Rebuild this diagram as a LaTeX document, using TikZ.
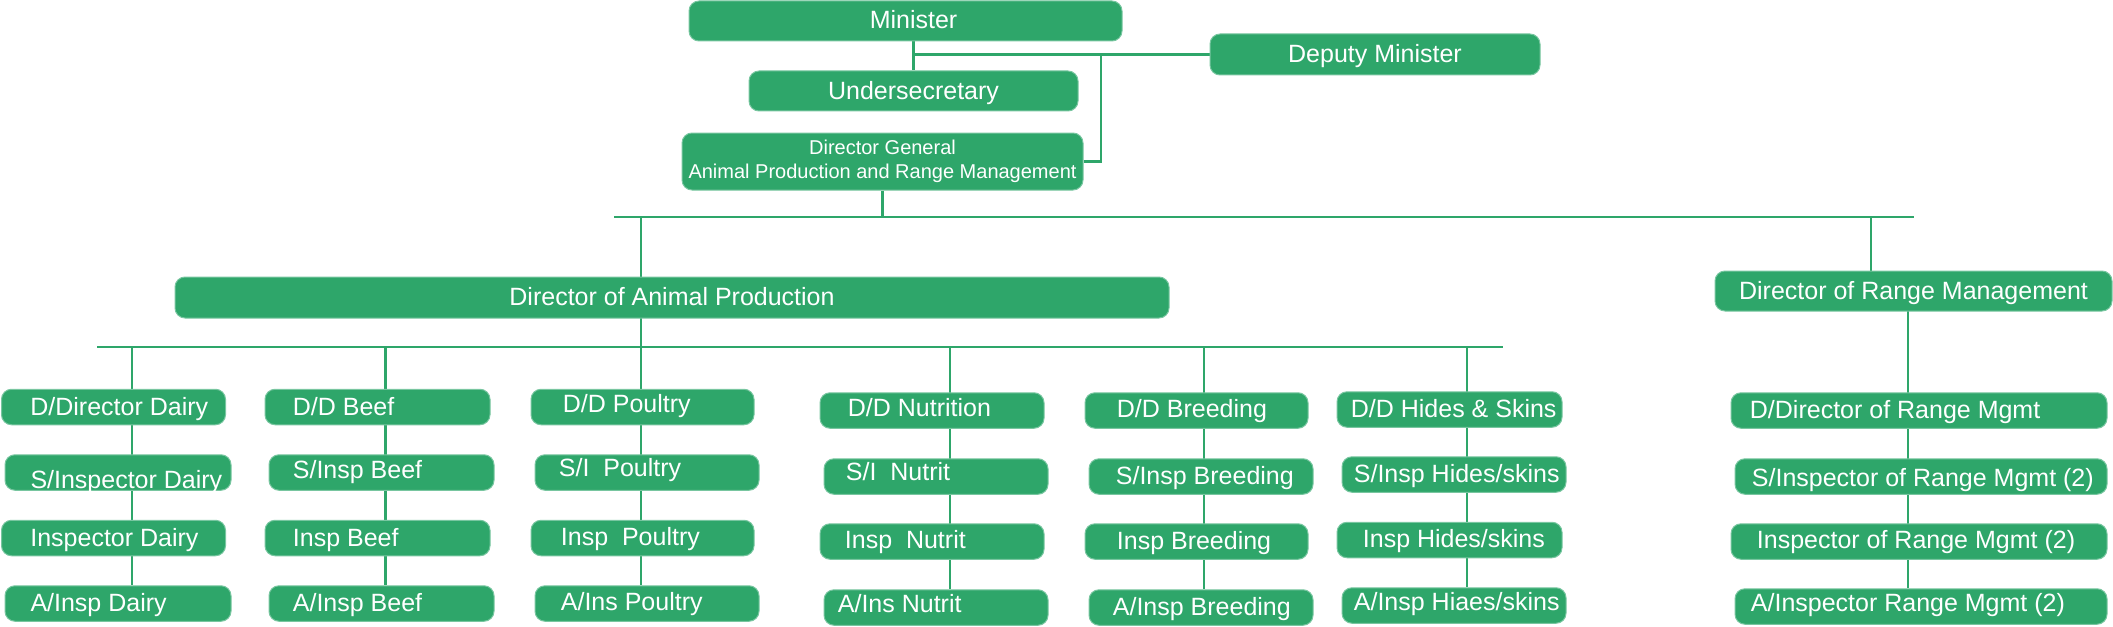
\documentclass[tikz,border=0pt]{standalone}
\usepackage{fontspec}
\setmainfont{Liberation Sans}
\usetikzlibrary{backgrounds}
\definecolor{agrigreen}{RGB}{46,166,106}
\definecolor{agririm}{RGB}{120,198,160}
\tikzset{
  box/.style={rectangle, rounded corners=5pt, fill=agrigreen, draw=agririm, line width=0.5pt,
    inner sep=0pt, text=white, font=\fontsize{12.5}{15}\selectfont},
  onetext/.style={text height=11pt, text depth=3pt},
  boxtext/.style={onetext, inner sep=0pt, text=white, font=\fontsize{12.5}{15}\selectfont, anchor=west},
  link/.style={draw=agrigreen, line width=1.4pt},
}
\tikzset{
  pics/post/.style args={#1/#2/#3/#4}{% #1=width, #2=indent, #3=raise, #4=text
    code = {
      \node[box, minimum width=#1, minimum height=17.75pt] (-box) {};
      \node[boxtext] (-text) at ([xshift=#2, yshift=#3]-box.west) {#4};
}}}

\begin{document}
\begin{tikzpicture}[x=0.5pt, y=-0.5pt]
  \useasboundingbox (0,0) rectangle (2113,626);
  % top of the chart
  \node[box, onetext, minimum width=216.5pt, minimum height=20pt] (minister) at (905.5,21) {\hspace*{8pt}Minister};
  \node[box, onetext, minimum width=165pt, minimum height=20.5pt] (deputy) at (1375,54.5) {Deputy Minister};
  \node[box, onetext, minimum width=164.5pt, minimum height=20pt] (usec) at (913.5,91) {Undersecretary};
  \node[box, align=center, font=\fontsize{10}{12}\selectfont, minimum width=200.5pt, minimum height=28.5pt] (dg) at (882.5,161.5) {Director General\\Animal Production and Range Management};
  \node[box, onetext, minimum width=497pt, minimum height=20.5pt] (dap) at (672,297.5) {Director of Animal Production};
  \node[box, onetext, minimum width=198.5pt, minimum height=20pt] (drm) at (1913.5,291) {Director of Range Management};

  \pic (dairy1) at (113.5,407) {post=112pt/14.5/0/D/Director Dairy};
  \pic (dairy2) at (118,472.5) {post=113pt/12.8/-3.75/S/Inspector Dairy};
  \pic (dairy3) at (113.5,538) {post=112pt/14.5/0/Inspector Dairy};
  \pic (dairy4) at (118,603.5) {post=113pt/12.8/0/A/Insp Dairy};

  \pic (beef1) at (377.5,407) {post=112.5pt/14/0/D/D Beef};
  \pic (beef2) at (381.5,472.5) {post=112.5pt/12/1/S/Insp Beef};
  \pic (beef3) at (377.5,538) {post=112.5pt/14/0/Insp Beef};
  \pic (beef4) at (381.5,603.5) {post=112.5pt/12/0/A/Insp Beef};

  \pic (poul1) at (642.5,407) {post=111.5pt/16/1.5/D/D Poultry};
  \pic (poul2) at (647,472.5) {post=112pt/12/2/S/I\ \ Poultry};
  \pic (poul3) at (642.5,538) {post=111.5pt/15/0.5/Insp\ \ Poultry};
  \pic (poul4) at (647,603.5) {post=112pt/13/0.75/A/Ins Poultry};

  \pic (nutr1) at (932,410.5) {post=112pt/14/1/D/D Nutrition};
  \pic (nutr2) at (936,476.5) {post=112pt/11/2.25/S/I\ \ Nutrit};
  \pic (nutr3) at (932,541.5) {post=112pt/12.5/0.5/Insp\ \ Nutrit};
  \pic (nutr4) at (936,607.5) {post=112pt/7/1.5/A/Ins Nutrit};

  \pic (bree1) at (1196.5,410.5) {post=111.5pt/16/0.5/D/D Breeding};
  \pic (bree2) at (1201,476.5) {post=112pt/13.5/0/S/Insp Breeding};
  \pic (bree3) at (1196.5,541.5) {post=111.5pt/16/0/Insp Breeding};
  \pic (bree4) at (1201,607.5) {post=112pt/12/0/A/Insp Breeding};

  \pic (hide1) at (1449.5,409.5) {post=112.5pt/7/0/D/D Hides \& Skins};
  \pic (hide2) at (1454,474.5) {post=112pt/6/0/S/Insp Hides/skins};
  \pic (hide3) at (1449.5,540) {post=112.5pt/13/0.5/Insp Hides/skins};
  \pic (hide4) at (1454,605.5) {post=112pt/6/1.75/A/Insp Hiaes/skins};

  \pic (rng1) at (1919,410.5) {post=188pt/9.5/0/D/Director of Range Mgmt};
  \pic (rng2) at (1921,476.5) {post=186pt/8.5/-0.75/S/Inspector of Range Mgmt (2)};
  \pic (rng3) at (1919,541.5) {post=188pt/13/0.5/Inspector of Range Mgmt (2)};
  \pic (rng4) at (1921,606.5) {post=186pt/8/1.5/A/Inspector Range Mgmt (2)};

  \coordinate (mtap) at (usec.north |- deputy.west);
  \coordinate (dgtap) at (1101,54.5);
  \coordinate (bus1w) at (614,217);
  \coordinate (bus1e) at (1914,217);
  \coordinate (aptap) at (641,217);
  \coordinate (rmtap) at (1871,217);
  \coordinate (bus2w) at (97,347);
  \coordinate (bus2e) at (1503,347);
  \coordinate (rngtap) at (1908,311);

  \begin{scope}[on background layer]
    \draw[link] (minister.south -| usec.north) -- (usec.north);
    \draw[link] (mtap) -- (deputy.west);
    \draw[link] (dg.east) -| (dgtap);
    \draw[link] (dg.south) -- (dg.south |- bus1w);
    \draw[link] (bus1w) -- (bus1e);
    \draw[link] (aptap) -- (aptap |- bus2w);
    \draw[link] (rmtap) -- (rmtap |- drm.north);
    \draw[link] (bus2w) -- (bus2e);
    \foreach \col/\x in {dairy/132, beef/385.5, poul/641, nutr/950, bree/1204, hide/1467}
      \draw[link] (\x,347) -- (\x,347 |- \col4-box.north);
    \draw[link] (rngtap) -- (rngtap |- rng4-box.north);
  \end{scope}
\end{tikzpicture}
\end{document}
